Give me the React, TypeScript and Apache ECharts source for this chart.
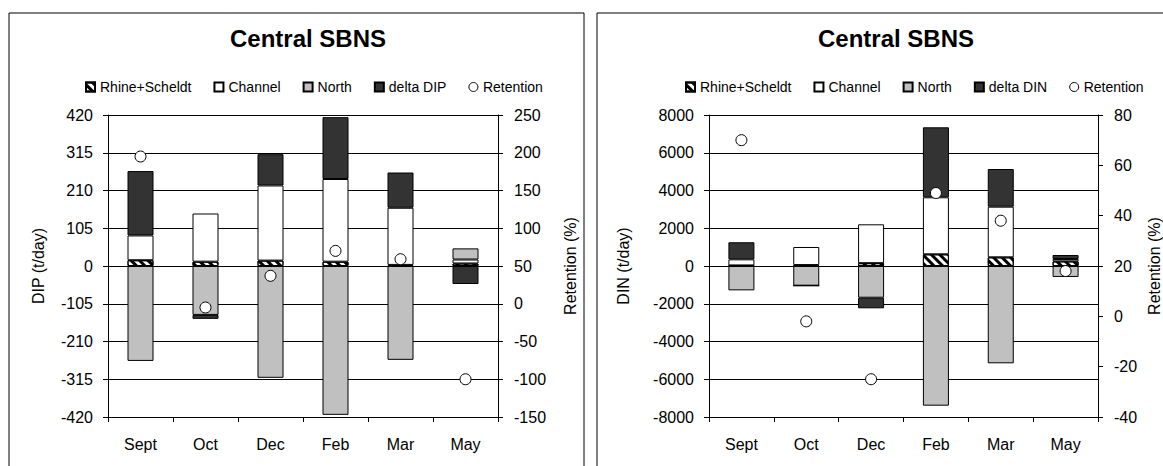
import React, { useEffect, useRef } from "react";
import * as echarts from "echarts";

const categories = ["Sept", "Oct", "Dec", "Feb", "Mar", "May"];

// Left panel: DIP (t/day)
const dipRhine = [16, 12, 15, 12, 3, 7];
const dipChannel = [69, 134, 209, 230, 159, 11];
const dipNorth = [-264, -136, -311, -414, -261, 31];
const dipDelta = [179, -11, 87, 172, 98, -50];
const dipRetention = [195, -5, 37, 70, 59, -100];

// Right panel: DIN (t/day)
const dinRhine = [30, 50, 150, 620, 460, 245];
const dinChannel = [323, 957, 2058, 3020, 2683, 127];
const dinNorth = [-1290, -1043, -1680, -7400, -5155, -580];
const dinDelta = [905, 0, -561, 3707, 1996, 210];
const dinRetention = [70, -2, -25, 49, 38, 18];

const FONT = "Liberation Sans, Arial, sans-serif";

const hatch = {
  symbol: "rect",
  symbolSize: 1,
  color: "#000000",
  dashArrayX: [1, 0],
  dashArrayY: [3, 3],
  rotation: Math.PI / 4,
};

function barSeries(name: string, data: number[], idx: number, color: string, decal?: any) {
  return {
    name,
    type: "bar",
    stack: "s" + idx,
    xAxisIndex: idx,
    yAxisIndex: idx * 2,
    barWidth: 26,
    data,
    itemStyle: {
      color,
      borderColor: "#000",
      borderWidth: 1,
      ...(decal ? { decal } : {}),
    },
    emphasis: { disabled: true },
  };
}

function scatterSeries(data: number[], idx: number) {
  return {
    name: "Retention",
    type: "scatter",
    xAxisIndex: idx,
    yAxisIndex: idx * 2 + 1,
    symbol: "circle",
    symbolSize: 11,
    data,
    itemStyle: { color: "#fff", borderColor: "#000", borderWidth: 1, opacity: 1 },
    z: 5,
  };
}

function xAxis(idx: number) {
  return {
    type: "category",
    gridIndex: idx,
    data: categories,
    boundaryGap: true,
    axisLine: { onZero: false, lineStyle: { color: "#000", width: 1 } },
    axisTick: { show: true, length: 5, inside: false, lineStyle: { color: "#000" } },
    axisLabel: { color: "#000", fontSize: 16, fontFamily: FONT, margin: 19 },
    splitLine: { show: false },
  };
}

function yAxis(idx: number, pos: "left" | "right", min: number, max: number, interval: number, name: string, nameGap: number, grid: boolean, margin: number) {
  return {
    type: "value",
    gridIndex: idx,
    position: pos,
    min,
    max,
    interval,
    name,
    nameLocation: "middle",
    nameRotate: 90,
    nameGap,
    nameTextStyle: { color: "#000", fontSize: 16, fontFamily: FONT },
    axisLine: { show: true, onZero: false, lineStyle: { color: "#000", width: 1 } },
    axisTick: { show: true, length: 5, inside: false, lineStyle: { color: "#000" } },
    axisLabel: {
      color: "#000",
      fontSize: 16,
      fontFamily: FONT,
      margin,
      formatter: (v: number) => String(v),
    },
    splitLine: { show: grid, lineStyle: { color: "#000", width: 1 } },
  };
}

function legend(left: number, deltaName: string) {
  return {
    left,
    top: 75,
    itemWidth: 9,
    itemHeight: 9,
    itemGap: 22,
    textStyle: { color: "#000", fontSize: 14, fontFamily: FONT },
    selectedMode: false,
    data: [
      { name: "Rhine+Scheldt", icon: "rect" },
      { name: "Channel", icon: "rect" },
      { name: "North", icon: "rect" },
      { name: deltaName, icon: "rect" },
      { name: "Retention", icon: "circle", itemStyle: { color: "#fff", borderColor: "#000", borderWidth: 1 } },
    ],
  };
}

export default function App() {
  const ref = useRef<HTMLDivElement>(null);
  useEffect(() => {
    if (!ref.current) return;
    const chart = echarts.init(ref.current, undefined, { renderer: "svg" });
    chart.setOption({
      animation: false,
      backgroundColor: "#fff",
      graphic: [
        { type: "rect", shape: { x: 9, y: 13, width: 575, height: 480 }, style: { fill: "none", stroke: "#000", lineWidth: 1 }, z: 0 },
        { type: "rect", shape: { x: 597, y: 13, width: 600, height: 480 }, style: { fill: "none", stroke: "#000", lineWidth: 1 }, z: 0 },
        { type: "text", x: 308, y: 38, style: { text: "Central SBNS", font: "bold 24px " + FONT, fill: "#000", textAlign: "center", textVerticalAlign: "middle" } },
        { type: "text", x: 896, y: 38, style: { text: "Central SBNS", font: "bold 24px " + FONT, fill: "#000", textAlign: "center", textVerticalAlign: "middle" } },
      ],
      legend: [legend(80, "delta DIP"), legend(680, "delta DIN")],
      grid: [
        { left: 108, top: 115, width: 390, height: 302, containLabel: false },
        { left: 709, top: 115, width: 390, height: 302, containLabel: false },
      ],
      xAxis: [xAxis(0), xAxis(1)],
      yAxis: [
        yAxis(0, "left", -420, 420, 105, "DIP (t/day)", 62, true, 15),
        yAxis(0, "right", -150, 250, 50, "Retention (%)", 64, false, 16),
        yAxis(1, "left", -8000, 8000, 2000, "DIN (t/day)", 78, true, 15),
        yAxis(1, "right", -40, 80, 20, "Retention (%)", 48, false, 16),
      ],
      series: [
        barSeries("Rhine+Scheldt", dipRhine, 0, "#ffffff", hatch),
        barSeries("Channel", dipChannel, 0, "#ffffff"),
        barSeries("North", dipNorth, 0, "#c0c0c0"),
        barSeries("delta DIP", dipDelta, 0, "#333333"),
        scatterSeries(dipRetention, 0),
        barSeries("Rhine+Scheldt", dinRhine, 1, "#ffffff", hatch),
        barSeries("Channel", dinChannel, 1, "#ffffff"),
        barSeries("North", dinNorth, 1, "#c0c0c0"),
        barSeries("delta DIN", dinDelta, 1, "#333333"),
        scatterSeries(dinRetention, 1),
      ],
    });
    return () => chart.dispose();
  }, []);
  return (
    <div
      ref={ref}
      style={{ position: "fixed", left: 0, top: 0, width: 1163, height: 466 }}
    />
  );
}
